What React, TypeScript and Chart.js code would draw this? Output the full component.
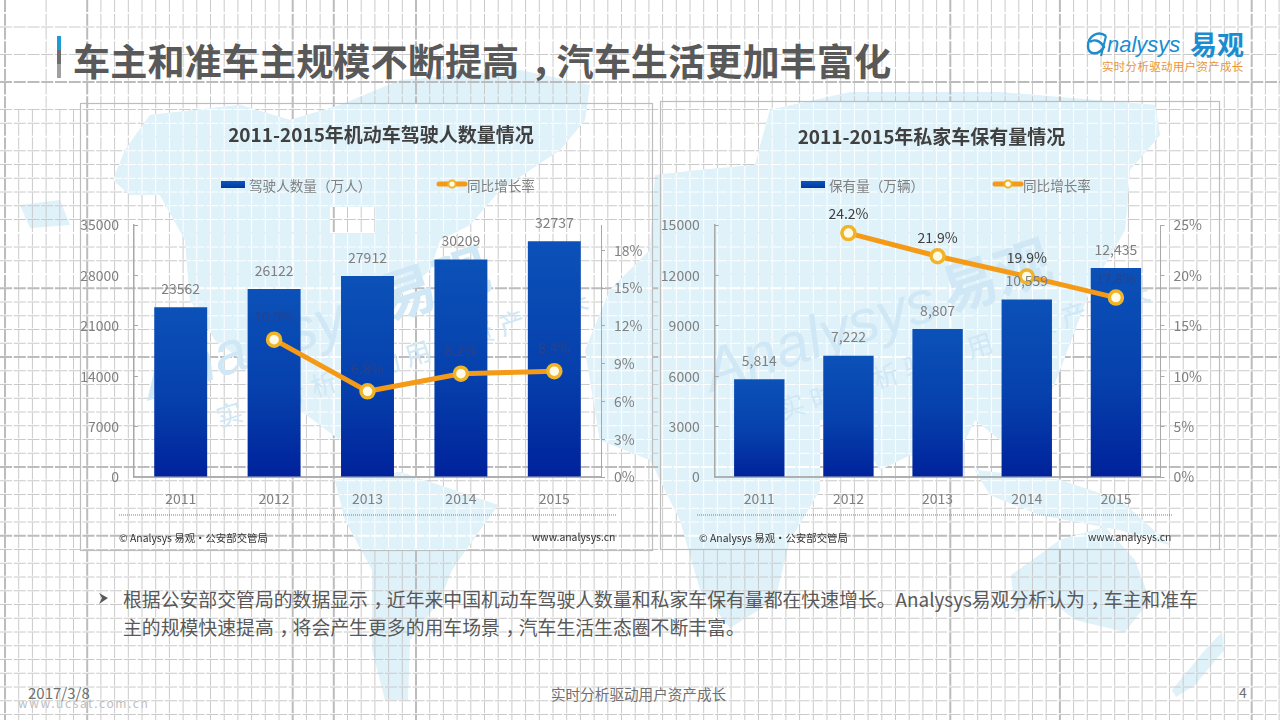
import React, { useEffect, useRef } from "react";
import { Chart, registerables } from "chart.js";

Chart.register(...registerables);

const FONT = '"Noto Sans CJK SC", "Noto Sans", sans-serif';

const years = ["2011", "2012", "2013", "2014", "2015"];
const drivers = [23562, 26122, 27912, 30209, 32737];
const driverGrowth = [null, 10.9, 6.8, 8.2, 8.4];
const cars = [5814, 7222, 8807, 10559, 12435];
const carGrowth = [null, 24.2, 21.9, 19.9, 17.8];

const pageTitle = "车主和准车主规模不断提高，汽车生活更加丰富化";
const leftTitle = "2011-2015年机动车驾驶人数量情况";
const rightTitle = "2011-2015年私家车保有量情况";
const driverLabel = "驾驶人数量（万人）";
const carLabel = "保有量（万辆）";
const growthLabel = "同比增长率";
const sourceLeft = "© Analysys 易观·公安部交管局";
const sourceRight = "www.analysys.cn";
const bodyLine1 = "根据公安部交管局的数据显示，近年来中国机动车驾驶人数量和私家车保有量都在快速增长。Analysys易观分析认为，车主和准车";
const bodyLine2 = "主的规模快速提高，将会产生更多的用车场景，汽车生活生态圈不断丰富。";
const slogan = "实时分析驱动用户资产成长";

const legendPlugin = {
  id: "panelLegend",
  afterDraw(chart: any, _a: any, o: any) {
    const c = chart.ctx;
    const [barDs, lineDs] = [chart.data.datasets[0], chart.data.datasets[1]];
    c.save();
    c.font = `13.6px ${FONT}`;
    c.textBaseline = "middle";
    c.textAlign = "left";
    const g = c.createLinearGradient(0, o.y - 4, 0, o.y + 3);
    g.addColorStop(0, "#0b51b8");
    g.addColorStop(1, "#00309f");
    c.fillStyle = g;
    c.fillRect(o.barX, o.y - 5, 24, 7);
    c.fillStyle = "#808080";
    c.fillText(barDs.label, o.barX + 28, o.y);
    c.strokeStyle = "#f59a16";
    c.lineWidth = 5;
    c.lineCap = "round";
    c.beginPath();
    c.moveTo(o.lineX + 2, o.y - 2);
    c.lineTo(o.lineX + 28, o.y - 2);
    c.stroke();
    c.beginPath();
    c.arc(o.lineX + 15, o.y - 2, 3.6, 0, Math.PI * 2);
    c.fillStyle = "#fffbe6";
    c.strokeStyle = "#f0b428";
    c.lineWidth = 2;
    c.fill();
    c.stroke();
    c.fillStyle = "#808080";
    c.fillText(lineDs.label, o.lineX + 30, o.y);
    c.restore();
  },
};

const valueLabelPlugin = {
  id: "valueLabels",
  afterDatasetsDraw(chart: any, _a: any, o: any) {
    const c = chart.ctx;
    const bars = chart.getDatasetMeta(0).data;
    const line = chart.getDatasetMeta(1).data;
    const barData = chart.data.datasets[0].data;
    const lineData = chart.data.datasets[1].data;
    c.save();
    c.font = `14px ${FONT}`;
    c.textAlign = "center";
    c.textBaseline = "middle";
    bars.forEach((b: any, i: number) => {
      c.fillStyle = "#7f7f7f";
      const t = o.comma ? barData[i].toLocaleString("en-US") : String(barData[i]);
      c.fillText(t, b.x, b.y - 18.5);
    });
    line.forEach((p: any, i: number) => {
      if (lineData[i] == null) return;
      const y = p.y - o.lineGap;
      const onBar = y > bars[i].y;
      c.fillStyle = onBar ? "#2a4288" : "#404040";
      c.fillText(lineData[i].toFixed(1) + "%", p.x, y);
    });
    c.restore();
  },
};

function makeChart(canvas: HTMLCanvasElement, cfg: any) {
  const axisColor = "#a8a8a8";
  const tickFont = { family: FONT, size: 14 };
  const barFill = (ctx: any) => {
    if (ctx.type !== "data") return "#0b51b8";
    const s = ctx.chart.scales.y;
    if (!s) return "#0b51b8";
    const top = s.getPixelForValue(ctx.raw);
    if (!Number.isFinite(top) || !Number.isFinite(s.bottom)) return "#0b51b8";
    const g = ctx.chart.ctx.createLinearGradient(0, top, 0, s.bottom);
    g.addColorStop(0, "#0b51b8");
    g.addColorStop(0.55, "#0640ac");
    g.addColorStop(1, "#00229b");
    return g;
  };
  return new Chart(canvas, {
    data: {
      labels: cfg.labels,
      datasets: [
        {
          type: "bar",
          label: cfg.barLabel,
          data: cfg.bars,
          yAxisID: "y",
          order: 2,
          backgroundColor: barFill,
          barPercentage: cfg.barPct,
          categoryPercentage: 1,
        },
        {
          type: "line",
          label: growthLabel,
          data: cfg.line,
          yAxisID: "y1",
          order: 1,
          borderColor: "#f59a16",
          borderWidth: 5,
          tension: 0,
          pointRadius: 6.5,
          pointBorderWidth: 3.5,
          pointBackgroundColor: "#fffbe6",
          pointBorderColor: "#f0b428",
        },
      ],
    },
    options: {
      animation: false,
      responsive: false,
      plugins: {
        legend: { display: false },
        tooltip: { enabled: false },
        title: {
          display: true,
          text: cfg.title,
          color: "#404040",
          font: { family: FONT, size: 19, weight: "bold", lineHeight: 1.2 },
          padding: { top: cfg.titleTop, bottom: cfg.titleBottom },
        },
        panelLegend: cfg.legend,
        valueLabels: { comma: cfg.comma, lineGap: cfg.lineGap },
      },
      scales: {
        x: {
          grid: { display: false },
          border: { display: true, color: "#b0b0b0", width: 2 },
          ticks: { color: "#808080", font: tickFont, padding: 5.5, maxRotation: 0, autoSkip: false },
          afterFit: (s: any) => { s.height = cfg.bottomH; },
        },
        y: {
          position: "left",
          min: 0,
          max: cfg.barMax,
          ticks: { stepSize: cfg.barStep, color: "#808080", font: tickFont, padding: 19, callback: (v: any) => String(v) },
          grid: { drawOnChartArea: false, tickLength: -4, tickColor: axisColor, tickWidth: 1 },
          border: { display: true, color: axisColor, width: 1.5 },
          afterFit: (s: any) => { s.width = cfg.leftW; },
        },
        y1: {
          position: "right",
          min: 0,
          max: cfg.lineMax,
          ticks: { stepSize: cfg.lineStep, color: "#808080", font: tickFont, padding: 9, callback: (v: any) => v + "%" },
          afterBuildTicks: (s: any) => { s.ticks = s.ticks.filter((t: any) => t.value % cfg.lineStep === 0); },
          grid: { drawOnChartArea: false, tickLength: 4, tickColor: axisColor, tickWidth: 1 },
          border: { display: true, color: axisColor, width: 1 },
          afterFit: (s: any) => { s.width = cfg.rightW; },
        },
      },
    } as any,
    plugins: [legendPlugin, valueLabelPlugin] as any,
  } as any);
}

const thickV = new Set([0, 6, 21, 24, 30, 69, 77, 91]);
const thickH = new Set([4, 19, 24, 32, 37]);
const skipH = new Set([1, 3, 5, 8, 15, 18]);
const vLines = Array.from({ length: 94 }, (_, k) => k);
const hLines = Array.from({ length: 51 }, (_, k) => k).filter((k) => !skipH.has(k));
const vx = (k: number) => 5 + 13.7 * k;
const hy = (k: number) => 27 + 13.75 * k;

const mapShapes = [
  "M113,180 L125,150 L150,115 L240,105 L290,120 L340,105 L400,80 L520,70 L590,85 L585,120 L560,150 L500,190 L470,225 L440,240 L430,270 L395,300 L385,340 L345,385 L340,440 L300,410 L255,370 L215,340 L190,300 L185,240 L160,195 L130,195 Z",
  "M335,480 L400,472 L498,505 L480,530 L452,570 L440,600 L410,640 L408,700 L385,700 L372,650 L372,570 L345,520 Z",
  "M655,175 L700,170 L755,165 L770,110 L850,92 L1000,92 L1155,105 L1160,135 L1130,170 L1125,230 L1090,290 L1060,370 L1040,420 L1000,440 L975,420 L950,470 L910,455 L880,470 L850,420 L820,420 L820,490 L790,540 L775,600 L730,628 L700,590 L680,520 L650,460 L600,440 L585,350 L610,290 L650,250 Z",
  "M975,470 L1060,480 L1120,500 L1170,545 L1120,530 L1040,515 L990,495 Z",
  "M1011,575 L1060,540 L1105,527 L1135,560 L1150,600 L1125,632 L1075,620 L1050,600 L1015,612 Z",
  "M1172,690 L1205,650 L1222,632 L1224,650 L1195,685 L1176,697 Z",
  "M20,205 L60,200 L70,225 L30,228 Z",
];
const mapHole = "M330,207 L375,207 L375,233 L330,233 Z";

function Background() {
  const gridLines = (color: string | null) => (
    <g fill="none" strokeDasharray="12 1.75">
      {vLines.map((k) => (
        <line key={"v" + k} x1={vx(k)} x2={vx(k)} y1={[1, 2, 4, 5].includes(k) ? 110 : 0} y2={720}
          stroke={color ?? (thickV.has(k) ? "#bcbcbc" : "#cacaca")} strokeWidth={thickV.has(k) ? 2 : 1} />
      ))}
      {hLines.map((k) => (
        <line key={"h" + k} x1={0} x2={1280} y1={hy(k)} y2={hy(k)}
          stroke={color ?? (thickH.has(k) ? "#bcbcbc" : "#cacaca")} strokeWidth={thickH.has(k) ? 2 : 1} />
      ))}
    </g>
  );
  const mapFill = "#dff1f9";
  const mark = (x: number, y: number) => (
    <g transform={`translate(${x},${y}) rotate(-18)`}>
      <text fontFamily="Liberation Sans" fontStyle="italic" fontSize={60}>Analysys</text>
      <text x={250} y={-2} fontWeight="bold" fontSize={56}>易观</text>
      <text x={58} y={48} fontSize={26} letterSpacing={7}>{slogan}</text>
    </g>
  );
  return (
    <svg width={1280} height={720} style={{ position: "absolute", left: 0, top: 0 }}>
      <defs>
        <clipPath id="panels">
          <rect x={80} y={103} width={573} height={448} />
          <rect x={660} y={101} width={560} height={449} />
        </clipPath>
        <clipPath id="map">
          {mapShapes.map((d, i) => <path key={i} d={d} />)}
        </clipPath>
        <clipPath id="hole"><path d={mapHole} /></clipPath>
        <linearGradient id="tbar" x1="0" y1="0" x2="0" y2="1">
          <stop offset="0" stopColor="#1e9ad6" />
          <stop offset="0.33" stopColor="#1e9ad6" />
          <stop offset="0.34" stopColor="#6e6e6e" />
          <stop offset="0.66" stopColor="#6e6e6e" />
          <stop offset="0.67" stopColor="#a0a0a0" />
          <stop offset="1" stopColor="#a0a0a0" />
        </linearGradient>
      </defs>
      <rect width={1280} height={720} fill="#fff" />
      {mapShapes.map((d, i) => <path key={i} d={d} fill={mapFill} />)}
      {gridLines(null)}
      <g clipPath="url(#panels)">
        <g clipPath="url(#map)">
          <rect width={1280} height={720} fill={mapFill} />
          {gridLines("#ffffff")}
        </g>
      </g>
      <g clipPath="url(#hole)">
        <rect width={1280} height={720} fill="#fff" />
        {gridLines(null)}
      </g>
      <g fill="#d0e8f5" fontFamily={FONT}>
        {mark(150, 400)}
        {mark(712, 392)}
      </g>
      <rect x={80.5} y={103.5} width={572} height={447} fill="none" stroke="#bdbdbd" strokeWidth={1.2} />
      <rect x={660.5} y={101.5} width={559} height={448} fill="none" stroke="#bdbdbd" strokeWidth={1.2} />
      <rect x={57} y={36} width={4} height={42} fill="url(#tbar)" />
      <line x1={119} x2={616} y1={515} y2={515} stroke="#7f7f7f" strokeDasharray="1 1" />
      <line x1={697} x2={1172} y1={515} y2={515} stroke="#7f7f7f" strokeDasharray="1 1" />
      <path d="M1106,36 C1098,30 1088,36 1088,46 C1088,55 1098,56 1104,47 C1100,40 1094,39 1090,42" fill="none" stroke="#1a8ccf" strokeWidth={2.4} />
      <path d="M1106,36 L1101,56" fill="none" stroke="#1a8ccf" strokeWidth={2} />
      <path d="M99,593 L108,598 L99,604 L102,598 Z" fill="#595959" />
    </svg>
  );
}

function Txt(p: { x: number; y: number; s: number; c: string; w?: string | number; f?: string; i?: boolean; ls?: number; t: string; shadow?: string }) {
  const parts = p.t.split("，");
  return (
    <div style={{
      position: "absolute",
      left: p.x,
      top: p.y,
      transform: "translateY(-50%)",
      fontFamily: p.f ?? FONT,
      fontSize: p.s,
      color: p.c,
      fontWeight: p.w ?? 400,
      fontStyle: p.i ? "italic" : "normal",
      letterSpacing: p.ls,
      lineHeight: 1.2,
      whiteSpace: "nowrap",
      textShadow: p.shadow,
    }}>
      {parts.map((part, i) => (
        <React.Fragment key={i}>
          {i > 0 && <span style={{ position: "relative", left: "0.3em" }}>，</span>}
          {part}
        </React.Fragment>
      ))}
    </div>
  );
}

export default function App() {
  const a = useRef<HTMLCanvasElement>(null);
  const b = useRef<HTMLCanvasElement>(null);
  useEffect(() => {
    const left = makeChart(a.current!, {
      labels: years, bars: drivers, line: driverGrowth, barLabel: driverLabel, title: leftTitle,
      barPct: 0.567, titleTop: 20, titleBottom: 79.2, bottomH: 74, leftW: 54, rightW: 81,
      barMax: 35000, barStep: 7000, lineMax: 20, lineStep: 3, comma: false, lineGap: 23,
      legend: { barX: 141, lineX: 357, y: 83 },
    });
    const right = makeChart(b.current!, {
      labels: years, bars: cars, line: carGrowth, barLabel: carLabel, title: rightTitle,
      barPct: 0.565, titleTop: 24, titleBottom: 77.2, bottomH: 74, leftW: 71.7, rightW: 59.5,
      barMax: 15000, barStep: 3000, lineMax: 25, lineStep: 5, comma: true, lineGap: 19,
      legend: { barX: 158, lineX: 350, y: 85 },
    });
    return () => { left.destroy(); right.destroy(); };
  }, []);
  return (
    <div style={{ position: "absolute", left: 0, top: 0, width: 1280, height: 720, overflow: "hidden", background: "#fff" }}>
      <Background />
      <canvas ref={a} width={602} height={448} style={{ position: "absolute", left: 80, top: 103 }} />
      <canvas ref={b} width={577} height={450} style={{ position: "absolute", left: 643, top: 101 }} />
      <Txt x={73} y={60} s={37.2} c="#595959" w={700} t={pageTitle} />
      <Txt x={1107} y={45} s={22} c="#1a8ccf" i f="Liberation Sans" t="nalysys" />
      <Txt x={1190} y={44} s={27} c="#1a8ccf" w={700} t="易观" />
      <Txt x={1102} y={67} s={11.5} c="#e8963c" ls={0.3} t={slogan} />
      <Txt x={119} y={538} s={10.4} c="#333333" t={sourceLeft} />
      <Txt x={532} y={537} s={10.4} c="#333333" t={sourceRight} />
      <Txt x={699} y={538} s={10.4} c="#333333" t={sourceLeft} />
      <Txt x={1088} y={537} s={10.4} c="#333333" t={sourceRight} />
      <Txt x={123} y={599} s={18.85} c="#595959" t={bodyLine1} />
      <Txt x={123} y={627} s={18.85} c="#595959" t={bodyLine2} />
      <Txt x={28} y={693} s={15} c="#707070" t="2017/3/8" />
      <Txt x={18} y={703} s={12} c="#bdbdbd" ls={1.6} shadow="0 0 1px #fff" t="www.ucsat.com.cn" />
      <Txt x={551} y={694} s={14.6} c="#707070" t={slogan} />
      <Txt x={1239} y={692} s={14} c="#707070" t="4" />
    </div>
  );
}
